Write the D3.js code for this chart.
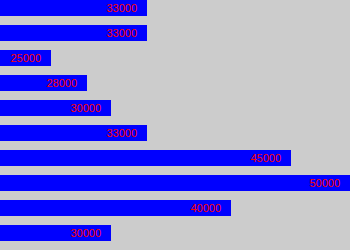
<!DOCTYPE html>
<html>
<head>
<meta charset="utf-8">
<script src="https://d3js.org/d3.v7.min.js"></script>
<style>
  body { margin: 0; background: #cccccc; }
  svg { display: block; }
  .label { font-family: "Liberation Sans", Arial, sans-serif; font-size: 11px; fill: #ff0000; }
</style>
</head>
<body>
<svg class="chart"></svg>
<script>
var width = 350,
    height = 250;

// one bar per row, top to bottom
var rows = ["r1", "r2", "r3", "r4", "r5", "r6", "r7", "r8", "r9", "r10"];
var values = [33000, 33000, 25000, 28000, 30000, 33000, 45000, 50000, 40000, 30000];

var x = d3.scaleLinear()
    .domain([25000, 50000])
    .range([51, 351]);

// 16px bars every 25px
var y = d3.scaleBand()
    .domain(rows)
    .range([0, 241])
    .paddingInner(9 / 25)
    .paddingOuter(0);

var chart = d3.select(".chart")
    .attr("width", width)
    .attr("height", height);

chart.append("rect")
    .attr("width", width)
    .attr("height", height)
    .attr("fill", "#cccccc");

var bar = chart.selectAll("g.bar")
    .data(values)
  .enter().append("g")
    .attr("class", "bar")
    .attr("transform", function(d, i) { return "translate(0," + y(rows[i]) + ")"; });

bar.append("rect")
    .attr("width", function(d) { return x(d); })
    .attr("height", y.bandwidth())
    .attr("fill", "#0000ff");

bar.append("text")
    .attr("class", "label")
    .attr("x", function(d) { return Math.min(x(d), width) - 10; })
    .attr("y", 12)
    .attr("text-anchor", "end")
    .text(function(d) { return d; });
</script>
</body>
</html>
